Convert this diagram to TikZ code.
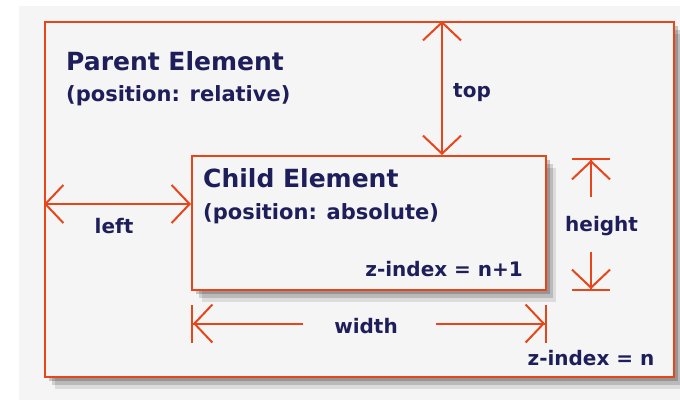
\documentclass[tikz,border=0pt]{standalone}
\usepackage{fontspec}
\setmainfont{DejaVu Sans}
\usetikzlibrary{arrows.meta,shadows,positioning}
\definecolor{rim}{HTML}{E8461A}
\definecolor{ink}{HTML}{1E1E5A}
\definecolor{paper}{HTML}{F5F5F5}

\begin{document}
\begin{tikzpicture}[x=1pt,y=-1pt,
    box/.style={draw=rim, line width=2pt, fill=paper, inner sep=0pt,
      drop shadow={shadow xshift=4pt, shadow yshift=-4pt, opacity=.2, fill=black},
      drop shadow={shadow xshift=7pt, shadow yshift=-8pt, opacity=.15, fill=black},
      drop shadow={shadow xshift=10pt, shadow yshift=-12pt, opacity=.1, fill=black}},
    title/.style={text=ink, font=\bfseries\fontsize{25}{30}\selectfont, inner sep=0pt, anchor=base west},
    subtitle/.style={text=ink, font=\bfseries\fontsize{21}{25}\selectfont, inner sep=0pt, anchor=base west},
    lbl/.style={text=ink, font=\bfseries\fontsize{20}{24}\selectfont, inner sep=0pt},
    dim/.style={draw=rim, line width=2pt,
      {Straight Barb[length=18pt,width=38pt]}-{Straight Barb[length=18pt,width=38pt]}},
    dimbar/.style={draw=rim, line width=2pt,
      -{Straight Barb[length=18pt,width=38pt]Bar[width=38pt]}},]
    \fill[white] (0,0) rectangle (680,400);
    \fill[paper] (19,6) rectangle (680,400);
    \useasboundingbox (0,0) rectangle (680,400);
    % boxes
    \node[box, minimum width=629pt, minimum height=355pt] (parent) at (359.5,199.5) {};
    \node[title]    (parentTitle) at (66,70)  {Parent Element};
    \node[subtitle] (parentPos)   at (66,101) {(position: relative)};
    \node[box, minimum width=354pt, minimum height=134pt] (child) at (369,223) {};
    \node[title]    (childTitle)  at (203,187) {Child Element};
    \node[subtitle] (childPos)    at (203,219) {(position: absolute)};
    \node[lbl, anchor=base east] (childZ)  at (523,276) {z-index = n+1};
    \node[lbl, anchor=base]      (parentZ) at (591,365) {z-index = n};
    % labels
    \node[lbl, anchor=base west] (topLbl)    at (453,97)  {top};
    \node[lbl, anchor=base]      (leftLbl)   at (114,233) {left};
    \node[lbl, anchor=base]      (widthLbl)  at (366,333) {width};
    \node[lbl, anchor=base west] (heightLbl) at (565,231) {height};
    \coordinate (topx) at (442,0);
    \coordinate (lefty) at (0,204);
    \coordinate (hx) at (591,0);
    % lines
    \draw[dim] (parent.north -| topx) -- (child.north -| topx);
    \draw[dim] (parent.west |- lefty) -- (child.west |- lefty);
    \draw[dimbar, shorten <=31pt] ([yshift=2pt]widthLbl.west) -- ([yshift=2pt]widthLbl.west -| child.west);
    \draw[dimbar, shorten <=38pt] ([yshift=2pt]widthLbl.east) -- ([yshift=2pt]widthLbl.east -| child.east);
    \draw[dimbar, shorten <=19pt, shorten >=3pt] (heightLbl.north -| hx) -- (child.north -| hx);
    \draw[dimbar, shorten <=16pt] (heightLbl.south -| hx) -- (child.south -| hx);
\end{tikzpicture}
\end{document}
